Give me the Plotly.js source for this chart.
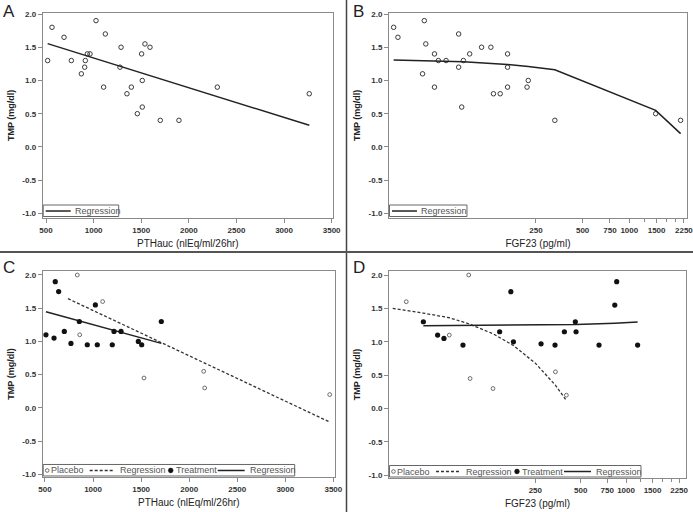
<!DOCTYPE html>
<html><head><meta charset="utf-8">
<script src="https://cdn.plot.ly/plotly-3.0.1.min.js"></script>
<style>html,body{margin:0;padding:0;background:#fff}#chart{width:693px;height:512px}</style>
</head><body><div id="chart"></div>
<script>
// ---------- Panel A: PTHauc vs TMP ----------
const A_x = [517, 563, 689, 766, 871, 906, 913, 934, 962, 1025, 1105, 1123, 1277, 1288, 1350, 1396, 1459, 1504, 1511, 1511, 1539, 1592, 1700, 1896, 2299, 3265];
const A_y = [1.3, 1.8, 1.65, 1.3, 1.1, 1.2, 1.3, 1.4, 1.4, 1.9, 0.9, 1.7, 1.2, 1.5, 0.8, 0.9, 0.5, 1.4, 1.0, 0.6, 1.55, 1.5, 0.4, 0.4, 0.9, 0.8];
const A_reg_x = [517, 3265];
const A_reg_y = [1.555, 0.325];

// ---------- Panel B: FGF23 vs TMP ----------
const B_x = [30.2, 32.2, 46.4, 47.6, 48.7, 55.4, 55.4, 58.7, 65.8, 79.3, 79.3, 83.0, 85.1, 93.4, 111.5, 128, 133, 147, 164, 164, 164, 219, 223, 331, 1480, 2143];
const B_y = [1.8, 1.65, 1.1, 1.9, 1.55, 1.4, 0.9, 1.3, 1.3, 1.7, 1.2, 0.6, 1.3, 1.4, 1.5, 1.5, 0.8, 0.8, 1.4, 1.2, 0.9, 0.9, 1.0, 0.4, 0.5, 0.4];
const B_reg_x = [30.2, 85.1, 164, 223, 331, 1480, 2143];
const B_reg_y = [1.31, 1.28, 1.24, 1.21, 1.16, 0.55, 0.20];

// ---------- Panel C: PTHauc vs TMP by group ----------
const C_plac_x = [836, 861, 1100, 1530, 2151, 2161, 3462];
const C_plac_y = [2.0, 1.1, 1.6, 0.45, 0.55, 0.3, 0.2];
const C_trt_x = [510, 594, 607, 642, 701, 770, 857, 940, 1024, 1044, 1200, 1218, 1291, 1471, 1506, 1710];
const C_trt_y = [1.1, 1.05, 1.9, 1.75, 1.15, 0.97, 1.3, 0.95, 1.55, 0.95, 0.95, 1.15, 1.15, 1.0, 0.95, 1.3];
const C_plac_reg_x = [739, 3462];
const C_plac_reg_y = [1.644, -0.213];
const C_trt_reg_x = [510, 1710];
const C_trt_reg_y = [1.448, 0.971];

// ---------- Panel D: FGF23 vs TMP by group ----------
const D_plac_x = [34.8, 67.2, 90.4, 92.3, 131, 340, 402];
const D_plac_y = [1.6, 1.1, 2.0, 0.45, 0.3, 0.55, 0.2];
const D_trt_x = [45.2, 56.2, 61.9, 82.8, 145, 172, 179, 273, 338, 390, 461, 466, 662, 842, 867, 1194];
const D_trt_y = [1.3, 1.1, 1.05, 0.95, 1.15, 1.75, 1.0, 0.97, 0.95, 1.15, 1.3, 1.15, 0.95, 1.55, 1.9, 0.95];
const D_plac_reg_x = [28.3, 34.8, 45, 67.2, 90.4, 131, 180, 250, 340, 402];
const D_plac_reg_y = [1.50, 1.47, 1.43, 1.36, 1.27, 1.12, 0.94, 0.68, 0.35, 0.12];
const D_trt_reg_x = [45.2, 145, 273, 466, 842, 1194];
const D_trt_reg_y = [1.24, 1.245, 1.251, 1.26, 1.278, 1.295];

// ---------- Tick labels ----------
const y_tickvals = [-1, -0.5, 0, 0.5, 1, 1.5, 2];
const y_ticktext = ['-1.0', '-0.5', '0.0', '0.5', '1.0', '1.5', '2.0'];
const pth_tickvals = [500, 1000, 1500, 2000, 2500, 3000, 3500];
const pth_ticktext = ['500', '1000', '1500', '2000', '2500', '3000', '3500'];
const fgf_tickvals = [250, 500, 750, 1000, 1500, 2250];
const fgf_ticktext = ['250', '500', '750', '1000', '1500', '2250'];
const fgf_minorvals = [1250, 1750, 2000];

const W = 693, H = 512;
const FONT = 'Liberation Sans, Arial, sans-serif';
const dom = {
  xA: [0.0616, 0.4805], xB: [0.5613, 0.9913],
  xC: [0.0616, 0.4834], xD: [0.5613, 0.9899],
  yAB: [0.5742, 0.9752], yC: [0.0684, 0.4707], yD: [0.0664, 0.4707]
};

const openMk = {symbol: 'circle-open', size: 4.5, color: '#3a3a3a', line: {width: 1}};
const placMk = {symbol: 'circle-open', size: 3.8, color: '#6a6a6a', line: {width: 1}};
const trtMk = {symbol: 'circle', size: 5.2, color: '#111'};
const regLine = {color: '#222', width: 1.5};
const dashLine = {color: '#333', width: 1.3, dash: '3px,2px'};

const traces = [
  {x: A_x, y: A_y, type: 'scatter', mode: 'markers', marker: openMk, xaxis: 'x', yaxis: 'y', name: 'TMP'},
  {x: A_reg_x, y: A_reg_y, type: 'scatter', mode: 'lines', line: regLine, xaxis: 'x', yaxis: 'y', name: 'Regression'},
  {x: B_x, y: B_y, type: 'scatter', mode: 'markers', marker: openMk, xaxis: 'x2', yaxis: 'y2', name: 'TMP'},
  {x: B_reg_x, y: B_reg_y, type: 'scatter', mode: 'lines', line: regLine, xaxis: 'x2', yaxis: 'y2', name: 'Regression'},
  {x: C_plac_reg_x, y: C_plac_reg_y, type: 'scatter', mode: 'lines', line: dashLine, xaxis: 'x3', yaxis: 'y3', name: 'Regression'},
  {x: C_trt_reg_x, y: C_trt_reg_y, type: 'scatter', mode: 'lines', line: regLine, xaxis: 'x3', yaxis: 'y3', name: 'Regression'},
  {x: C_plac_x, y: C_plac_y, type: 'scatter', mode: 'markers', marker: placMk, xaxis: 'x3', yaxis: 'y3', name: 'Placebo'},
  {x: C_trt_x, y: C_trt_y, type: 'scatter', mode: 'markers', marker: trtMk, xaxis: 'x3', yaxis: 'y3', name: 'Treatment'},
  {x: D_plac_reg_x, y: D_plac_reg_y, type: 'scatter', mode: 'lines', line: dashLine, xaxis: 'x4', yaxis: 'y4', name: 'Regression'},
  {x: D_trt_reg_x, y: D_trt_reg_y, type: 'scatter', mode: 'lines', line: regLine, xaxis: 'x4', yaxis: 'y4', name: 'Regression'},
  {x: D_plac_x, y: D_plac_y, type: 'scatter', mode: 'markers', marker: placMk, xaxis: 'x4', yaxis: 'y4', name: 'Placebo'},
  {x: D_trt_x, y: D_trt_y, type: 'scatter', mode: 'markers', marker: trtMk, xaxis: 'x4', yaxis: 'y4', name: 'Treatment'}
];

const axBase = {
  showgrid: false, zeroline: false, showline: true, mirror: true,
  linecolor: '#8a8a8a', linewidth: 1, ticks: 'outside', ticklen: 4, tickcolor: '#8a8a8a',
  tickfont: {family: FONT, size: 8, color: '#333', weight: 'bold'}, fixedrange: true,
  ticklabeloverflow: 'allow'
};
const xTitleFont = {family: FONT, size: 10, color: '#222'};
const yTitleFont = {family: FONT, size: 9, color: '#222', weight: 'bold'};

function yAx(domain, range, anchor) {
  return Object.assign({}, axBase, {domain: domain, range: range, anchor: anchor,
    tickmode: 'array', tickvals: y_tickvals, ticktext: y_ticktext,
    title: {text: 'TMP (mg/dl)', font: yTitleFont, standoff: 6}});
}
function pthAx(domain, range, anchor) {
  return Object.assign({}, axBase, {domain: domain, range: range, anchor: anchor,
    tickmode: 'array', tickvals: pth_tickvals, ticktext: pth_ticktext,
    title: {text: 'PTHauc (nlEq/ml/26hr)', font: xTitleFont, standoff: 6}});
}
function fgfAx(domain, range, anchor) {
  return Object.assign({}, axBase, {domain: domain, range: range, anchor: anchor, type: 'log',
    tickmode: 'array', tickvals: fgf_tickvals, ticktext: fgf_ticktext,
    minor: {tickmode: 'array', tickvals: fgf_minorvals, ticks: 'outside', ticklen: 3, tickcolor: '#8a8a8a'},
    title: {text: 'FGF23 (pg/ml)', font: xTitleFont, standoff: 6}});
}

const shapes = [
  {type: 'line', xref: 'paper', yref: 'paper', x0: 346.5 / W, x1: 346.5 / W, y0: 0, y1: 1, line: {color: '#444', width: 1.5}},
  {type: 'line', xref: 'paper', yref: 'paper', x0: 0, x1: 1, y0: 1 - 252 / H, y1: 1 - 252 / H, line: {color: '#555', width: 2}}
];
const annotations = [];
[['A', 2, 1], ['B', 352, 1], ['C', 2, 257], ['D', 352, 257]].forEach(function (p) {
  annotations.push({text: p[0], xref: 'paper', yref: 'paper', x: p[1] / W, y: 1 - p[2] / H,
    xanchor: 'left', yanchor: 'top', showarrow: false, borderpad: 0,
    font: {family: FONT, size: 17, color: '#222'}});
});

function legText(xr, yr, txt, x, y) {
  annotations.push({text: txt, xref: xr, yref: yr, x: x, y: y, xanchor: 'left', yanchor: 'middle',
    showarrow: false, borderpad: 0, font: {family: FONT, size: 9, color: '#555'}});
}

// Single-entry legend (Regression) for panels A and B
function regLegend(xr, yr, plotW, plotH, boxW) {
  const fx = v => v / plotW, fy = v => v / plotH;
  const yc = fy(7);
  shapes.push({type: 'rect', xref: xr, yref: yr, x0: fx(0.5), x1: fx(boxW), y0: fy(1.5), y1: fy(13),
    line: {color: '#666', width: 1}, fillcolor: '#fff', layer: 'above'});
  shapes.push({type: 'line', xref: xr, yref: yr, x0: fx(3), x1: fx(28), y0: yc, y1: yc,
    line: {color: '#222', width: 1.5}, layer: 'above'});
  legText(xr, yr, 'Regression', fx(31), yc);
}
regLegend('x domain', 'y domain', (dom.xA[1] - dom.xA[0]) * W, (dom.yAB[1] - dom.yAB[0]) * H, 76);
regLegend('x2 domain', 'y2 domain', (dom.xB[1] - dom.xB[0]) * W, (dom.yAB[1] - dom.yAB[0]) * H, 78);

// Group legend (Placebo / Regression / Treatment / Regression) for panels C and D
function groupLegend(xr, yr, plotW, plotH) {
  const fx = v => v / plotW, fy = v => v / plotH;
  const yc = fy(6.5);
  shapes.push({type: 'rect', xref: xr, yref: yr, x0: fx(0.5), x1: fx(252), y0: fy(1), y1: fy(12.5),
    line: {color: '#666', width: 1}, fillcolor: '#fff', layer: 'above'});
  shapes.push({type: 'circle', xref: xr, yref: yr, xsizemode: 'pixel', ysizemode: 'pixel',
    xanchor: fx(4.5), yanchor: yc, x0: -1.8, x1: 1.8, y0: -1.8, y1: 1.8,
    line: {color: '#6a6a6a', width: 1}, fillcolor: '#fff', layer: 'above'});
  shapes.push({type: 'line', xref: xr, yref: yr, x0: fx(47), x1: fx(72), y0: yc, y1: yc,
    line: {color: '#333', width: 1.3, dash: '3px,2px'}, layer: 'above'});
  shapes.push({type: 'circle', xref: xr, yref: yr, xsizemode: 'pixel', ysizemode: 'pixel',
    xanchor: fx(128), yanchor: yc, x0: -2.4, x1: 2.4, y0: -2.4, y1: 2.4,
    line: {color: '#111', width: 0.5}, fillcolor: '#111', layer: 'above'});
  shapes.push({type: 'line', xref: xr, yref: yr, x0: fx(175), x1: fx(202), y0: yc, y1: yc,
    line: {color: '#222', width: 1.5}, layer: 'above'});
  [['Placebo', 7], ['Regression', 76], ['Treatment', 132], ['Regression', 206]].forEach(function (t) {
    legText(xr, yr, t[0], fx(t[1]), yc);
  });
}
groupLegend('x3 domain', 'y3 domain', (dom.xC[1] - dom.xC[0]) * W, (dom.yC[1] - dom.yC[0]) * H);
groupLegend('x4 domain', 'y4 domain', (dom.xD[1] - dom.xD[0]) * W, (dom.yD[1] - dom.yD[0]) * H);

const layout = {
  width: W, height: H, margin: {l: 0, r: 0, t: 0, b: 0},
  paper_bgcolor: '#fff', plot_bgcolor: '#fff',
  font: {family: FONT, color: '#333'},
  showlegend: false,
  xaxis: pthAx(dom.xA, [465, 3514], 'y'),
  yaxis: yAx(dom.yAB, [-1.07, 2.02], 'x'),
  xaxis2: fgfAx(dom.xB, [1.450, 3.372], 'y2'),
  yaxis2: yAx(dom.yAB, [-1.07, 2.02], 'x2'),
  xaxis3: pthAx(dom.xC, [476, 3517], 'y3'),
  yaxis3: yAx(dom.yC, [-1.04, 2.06], 'x3'),
  xaxis4: fgfAx(dom.xD, [1.427, 3.398], 'y4'),
  yaxis4: yAx(dom.yD, [-1.04, 2.06], 'x4'),
  shapes: shapes,
  annotations: annotations,
  hovermode: false
};

Plotly.newPlot('chart', traces, layout, {staticPlot: true, displayModeBar: false});
</script>
</body></html>
